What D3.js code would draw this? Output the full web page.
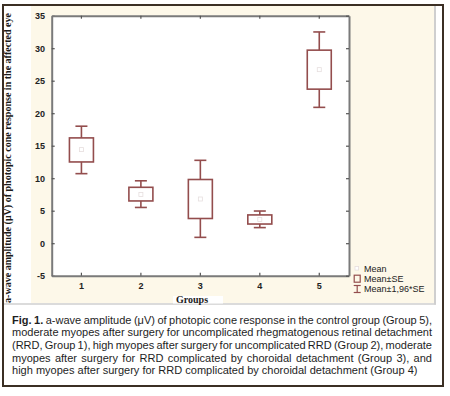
<!DOCTYPE html>
<html>
<head>
<meta charset="utf-8">
<script src="https://cdn.jsdelivr.net/npm/d3@7"></script>
<style>
  html, body { margin: 0; padding: 0; background: #fff; }
  svg { display: block; }
</style>
</head>
<body>
<svg id="chart" width="450" height="396"></svg>
<script>
// ---- data ----
const groups = ["1", "2", "3", "4", "5"];
const means  = [14.4, 7.5, 6.8, 3.65, 26.7];
const seLow  = [12.5, 6.5, 3.8, 2.95, 23.7];
const seHigh = [16.2, 8.6, 9.8, 4.35, 29.7];
const ciLow  = [10.7, 5.5, 0.9, 2.4, 20.9];
const ciHigh = [18.0, 9.6, 12.75, 4.95, 32.5];
const yTicks = [-5, 0, 5, 10, 15, 20, 25, 30, 35];
const yLabel = "a-wave amplitude (\u03bcV) of photopic cone response in the affected eye";
const xLabel = "Groups";
const legendLabels = ["Mean", "Mean\u00b1SE", "Mean\u00b11,96*SE"];
const captionLines = [
  "Fig. 1. a-wave amplitude (\u03bcV) of photopic cone response in the control group (Group 5),",
  "moderate myopes after surgery for uncomplicated rhegmatogenous retinal detachment",
  "(RRD, Group 1), high myopes after surgery for uncomplicated RRD (Group 2), moderate",
  "myopes after surgery for RRD complicated by choroidal detachment (Group 3), and",
  "high myopes after surgery for RRD complicated by choroidal detachment (Group 4)"
];

// ---- layout ----
const svg = d3.select("#chart");
const boxColor = "#934d4d";
const cream = "#fdf8e9";
const plot = { left: 51.7, right: 349, top: 15.7, bottom: 275.7 };

// frame & backgrounds
svg.append("rect").attr("x", 3).attr("y", 5).attr("width", 440).attr("height", 381)
  .attr("fill", "#fff").attr("stroke", "#3b2f24").attr("stroke-width", 2);
svg.append("rect").attr("x", 31).attr("y", 6).attr("width", 404).attr("height", 297).attr("fill", cream);
svg.append("line").attr("x1", 435).attr("x2", 435).attr("y1", 6).attr("y2", 304.5)
  .attr("stroke", "#cfcfcf").attr("stroke-width", 2);
svg.append("line").attr("x1", 4).attr("x2", 436).attr("y1", 304).attr("y2", 304)
  .attr("stroke", "#cfcfcf").attr("stroke-width", 1.5);
svg.append("rect").attr("x", plot.left).attr("y", plot.top)
  .attr("width", plot.right - plot.left).attr("height", plot.bottom - plot.top).attr("fill", "#fff");

// scales
const x = d3.scaleBand().domain(groups).range([plot.left, plot.right]).padding(0);
const y = d3.scaleLinear().domain([-5, 35]).range([plot.bottom, plot.top]);

const axisColor = "#7a7a7a";
function styleAxis(g) {
  g.select(".domain").attr("stroke", axisColor).attr("stroke-width", 2);
  g.selectAll(".tick line").attr("stroke", "#555").attr("stroke-width", 1.2);
  g.selectAll("text").attr("font-family", "Liberation Sans, Arial, sans-serif")
    .attr("font-weight", "bold").attr("font-size", 9).attr("fill", "#222");
}
svg.append("g").attr("transform", `translate(${plot.left},0)`)
  .call(d3.axisLeft(y).tickValues(yTicks).tickFormat(d => String(d))
    .tickSize(-3).tickSizeOuter(0).tickPadding(6.7))
  .call(styleAxis);
svg.append("g").attr("transform", `translate(0,${plot.bottom})`)
  .call(d3.axisBottom(x).tickSize(-3).tickSizeOuter(0).tickPadding(7.4))
  .call(styleAxis);
svg.append("g").attr("transform", `translate(0,${plot.top})`)
  .call(d3.axisTop(x).tickSize(-3).tickSizeOuter(0).tickFormat(""))
  .call(styleAxis);
svg.append("g").attr("transform", `translate(${plot.right},0)`)
  .call(d3.axisRight(y).tickValues(yTicks).tickSize(-3).tickSizeOuter(0).tickFormat(""))
  .call(styleAxis);

// boxes
const boxW = 24, capW = 12;
const gBox = svg.append("g").attr("fill", "none").attr("stroke", boxColor).attr("stroke-width", 1.6);
groups.forEach((g, i) => {
  const cx = x(g) + x.bandwidth() / 2;
  gBox.append("line").attr("x1", cx).attr("x2", cx).attr("y1", y(seHigh[i])).attr("y2", y(ciHigh[i]));
  gBox.append("line").attr("x1", cx).attr("x2", cx).attr("y1", y(seLow[i])).attr("y2", y(ciLow[i]));
  gBox.append("line").attr("x1", cx - capW / 2).attr("x2", cx + capW / 2).attr("y1", y(ciHigh[i])).attr("y2", y(ciHigh[i]));
  gBox.append("line").attr("x1", cx - capW / 2).attr("x2", cx + capW / 2).attr("y1", y(ciLow[i])).attr("y2", y(ciLow[i]));
  gBox.append("rect").attr("x", cx - boxW / 2).attr("y", y(seHigh[i]))
    .attr("width", boxW).attr("height", y(seLow[i]) - y(seHigh[i]));
  svg.append("rect").attr("x", cx - 2).attr("y", y(means[i]) - 2).attr("width", 4).attr("height", 4)
    .attr("fill", "#fff").attr("stroke", "#e6dede").attr("stroke-width", 0.8);
});

// y label
const yl = svg.append("text").attr("transform", "translate(10.5,158) rotate(-90)")
  .attr("text-anchor", "middle").attr("font-family", "Liberation Serif, Times New Roman, serif")
  .attr("font-weight", "bold").attr("font-size", 10).attr("fill", "#1a1a1a").text(yLabel);
const ylw = yl.node().getComputedTextLength();
yl.attr("font-size", 10 * 290 / ylw);

// x label
svg.append("rect").attr("x", 173).attr("y", 296).attr("width", 50).attr("height", 7.5).attr("fill", "#fff");
svg.append("text").attr("x", 192).attr("y", 303.3).attr("text-anchor", "middle")
  .attr("font-family", "Liberation Serif, Times New Roman, serif").attr("font-weight", "bold")
  .attr("font-size", 10).attr("fill", "#1a1a1a").text(xLabel);

// legend
const lg = svg.append("g");
lg.append("rect").attr("x", 355).attr("y", 266.5).attr("width", 3.6).attr("height", 3.6)
  .attr("fill", "#fff").attr("stroke", "#e6dede").attr("stroke-width", 0.8);
lg.append("rect").attr("x", 354.2).attr("y", 275.2).attr("width", 6).attr("height", 7)
  .attr("fill", "none").attr("stroke", boxColor).attr("stroke-width", 1.2);
lg.append("line").attr("x1", 357.2).attr("x2", 357.2).attr("y1", 285.5).attr("y2", 292.5)
  .attr("stroke", boxColor).attr("stroke-width", 1.2);
lg.append("line").attr("x1", 353.7).attr("x2", 360.7).attr("y1", 285.5).attr("y2", 285.5)
  .attr("stroke", boxColor).attr("stroke-width", 1.2);
lg.append("line").attr("x1", 353.7).attr("x2", 360.7).attr("y1", 292.5).attr("y2", 292.5)
  .attr("stroke", boxColor).attr("stroke-width", 1.2);
const legY = [272.3, 282, 292];
legendLabels.forEach((t, i) => {
  lg.append("text").attr("x", 364).attr("y", legY[i])
    .attr("font-family", "Liberation Sans, Arial, sans-serif").attr("font-size", 9)
    .attr("fill", "#222").text(t);
});

// caption (justified)
const capFont = "Liberation Sans, Arial, sans-serif";
const capLeft = 12, capRight = 432;
function natural(line, size, boldFirst) {
  const t = svg.append("text").attr("font-family", capFont).attr("font-size", size);
  line.split(" ").forEach((w, wi) => t.append("tspan")
    .attr("font-weight", (boldFirst && wi < 2) ? "bold" : "normal").text(w + " "));
  const w = t.node().getComputedTextLength();
  t.remove();
  return w;
}
const sizeA = 10 * 419 / natural(captionLines[0], 10, true);
const sizeB = 10 * 415 / natural(captionLines[4], 10, false);
const capSize = Math.min(sizeA * 1.03, (sizeA + sizeB) / 2);
const capBase = [323.8, 336.4, 349, 361.5, 374];
captionLines.forEach((line, li) => {
  const words = line.split(" ");
  const t = svg.append("text").attr("y", capBase[li]).attr("font-family", capFont)
    .attr("font-size", capSize).attr("fill", "#1e1e1e");
  const spans = words.map((w, wi) => t.append("tspan")
    .attr("font-weight", (li === 0 && wi < 2) ? "bold" : "normal").text(w));
  const widths = spans.map(s => s.node().getComputedTextLength());
  const total = d3.sum(widths);
  const last = li === captionLines.length - 1;
  const sp = last ? capSize * 0.278 : (capRight - capLeft - total) / (words.length - 1);
  let cx = capLeft;
  spans.forEach((s, i) => { s.attr("x", cx); cx += widths[i] + sp; });
});
</script>
</body>
</html>
